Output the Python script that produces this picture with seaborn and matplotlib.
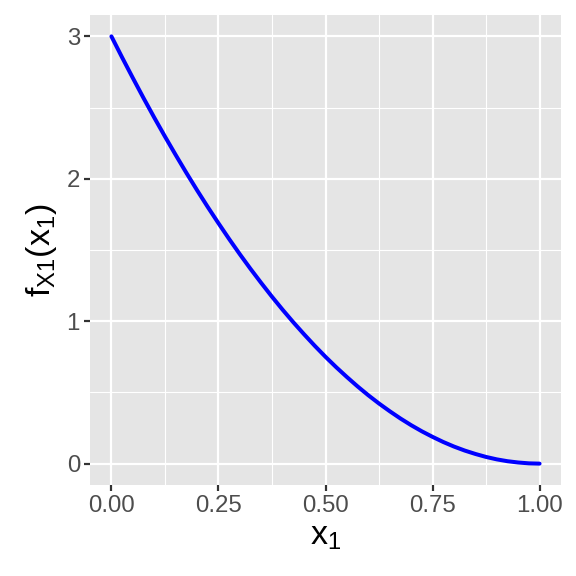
import numpy as np
import pandas as pd
import matplotlib
matplotlib.use("Agg")
import matplotlib.pyplot as plt
from matplotlib.ticker import MultipleLocator
import seaborn as sns

# --- Data ---
x_vals = [0.000, 0.025, 0.050, 0.075, 0.100, 0.125, 0.150, 0.175, 0.200,
          0.225, 0.250, 0.275, 0.300, 0.325, 0.350, 0.375, 0.400, 0.425,
          0.450, 0.475, 0.500, 0.525, 0.550, 0.575, 0.600, 0.625, 0.650,
          0.675, 0.700, 0.725, 0.750, 0.775, 0.800, 0.825, 0.850, 0.875,
          0.900, 0.925, 0.950, 0.975, 1.000]
f_vals = [3.000, 2.852, 2.708, 2.567, 2.430, 2.297, 2.168, 2.042, 1.920,
          1.802, 1.688, 1.577, 1.470, 1.367, 1.268, 1.172, 1.080, 0.992,
          0.908, 0.827, 0.750, 0.677, 0.608, 0.542, 0.480, 0.422, 0.368,
          0.317, 0.270, 0.227, 0.188, 0.152, 0.120, 0.092, 0.068, 0.047,
          0.030, 0.017, 0.008, 0.002, 0.000]
x_ticks = [0.00, 0.25, 0.50, 0.75, 1.00]
x_tick_labels = ["0.00", "0.25", "0.50", "0.75", "1.00"]
y_ticks = [0, 1, 2, 3]

df = pd.DataFrame({"x1": x_vals, "f": f_vals})

# ggplot-like theme
sns.set_theme(style="darkgrid", rc={
    "axes.facecolor": "#E5E5E5",
    "grid.color": "white",
})
plt.rcParams["font.family"] = ["Liberation Sans", "DejaVu Sans"]
plt.rcParams["mathtext.fontset"] = "custom"
plt.rcParams["mathtext.rm"] = "Liberation Sans"
plt.rcParams["mathtext.it"] = "Liberation Sans"

fig = plt.figure(figsize=(4, 4), dpi=144)
ax = fig.add_axes([90 / 576, 1 - 485 / 576, (561 - 90) / 576, (485 - 15) / 576])

sns.lineplot(data=df, x="x1", y="f", color="#0000FF", linewidth=2.0, ax=ax)

ax.set_xlim(-0.05, 1.05)
ax.set_ylim(-0.15, 3.15)
ax.set_xticks(x_ticks)
ax.set_xticklabels(x_tick_labels)
ax.set_yticks(y_ticks)
ax.xaxis.set_minor_locator(MultipleLocator(0.125))
ax.yaxis.set_minor_locator(MultipleLocator(0.5))
ax.grid(which="major", color="white", linewidth=1.1)
ax.grid(which="minor", color="white", linewidth=0.55)
for s in ax.spines.values():
    s.set_visible(False)

ax.tick_params(axis="both", which="major", bottom=True, left=True, length=3,
               width=1.1, color="#333333", labelsize=12, labelcolor="#4D4D4D", pad=2)
ax.tick_params(axis="both", which="minor", length=0)

ax.set_xlabel(r"$\mathregular{x_1}$", fontsize=17, color="black", labelpad=2)
ax.set_ylabel(r"$\mathregular{f_{X1}(x_1)}$", fontsize=17, color="black", labelpad=4)

fig.savefig("out.png", dpi=144)
